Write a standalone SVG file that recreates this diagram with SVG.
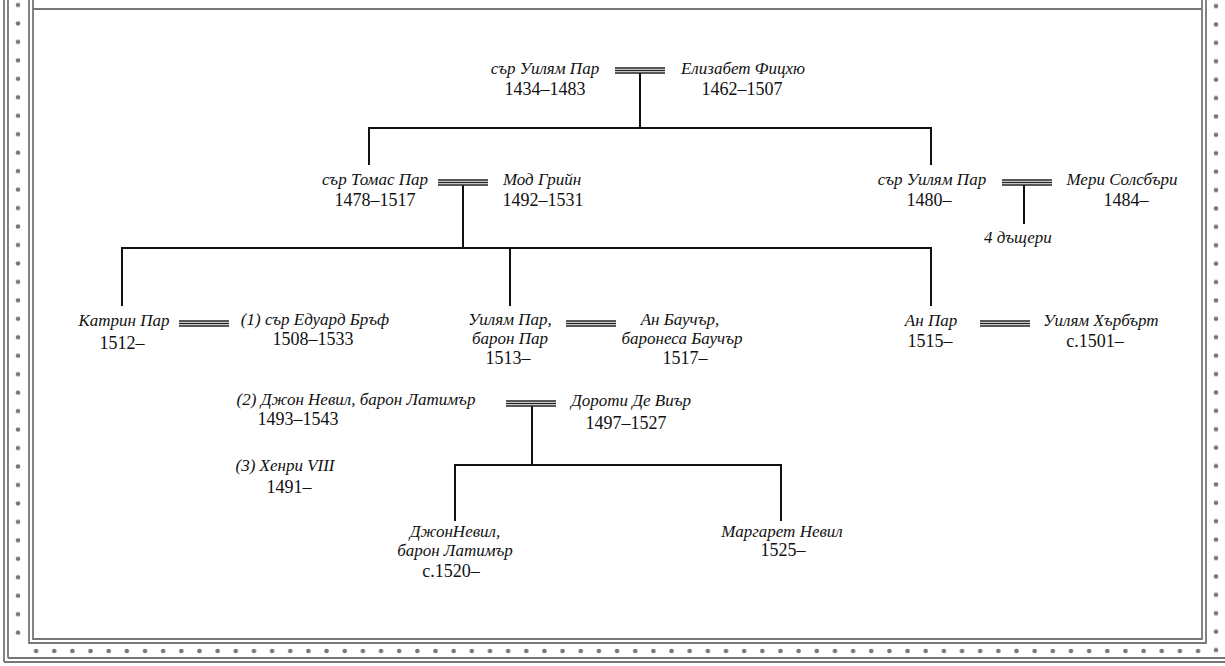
<svg xmlns="http://www.w3.org/2000/svg" width="1225" height="666" viewBox="0 0 1225 666">
<style>
.nm{font-family:"Liberation Serif","DejaVu Serif",serif;font-style:italic;font-size:17px;fill:#111;text-anchor:middle}
.dt{font-family:"Liberation Serif","DejaVu Serif",serif;font-size:18px;fill:#111;text-anchor:middle}
.ln{stroke:#111;stroke-width:2;fill:none}
.mr{stroke:#222;stroke-width:1.3;fill:none}
.bd{stroke:#777;stroke-width:1.8;fill:none}
</style>
<defs>
<pattern id="dh" patternUnits="userSpaceOnUse" x="27" y="640" width="18.156" height="20"><circle cx="9.078" cy="11" r="2.3" fill="#777"/></pattern>
<pattern id="dv" patternUnits="userSpaceOnUse" x="8" y="-4.23" width="20" height="18.46"><circle cx="10" cy="9.23" r="2.3" fill="#777"/></pattern>
<pattern id="dvr" patternUnits="userSpaceOnUse" x="1206" y="-3.2" width="20" height="18.4"><circle cx="10" cy="9.2" r="2.3" fill="#777"/></pattern>
<g id="marriage"><line class="mr" x1="0" y1="0" x2="50" y2="0"/><line class="mr" x1="0" y1="2.5" x2="50" y2="2.5"/><line class="mr" x1="0" y1="5" x2="50" y2="5"/></g>
</defs>
<rect width="1225" height="666" fill="#fff"/>
<g id="border">
<line class="bd" x1="4" y1="0" x2="4" y2="662"/>
<line class="bd" x1="8" y1="0" x2="8" y2="658"/>
<line class="bd" x1="4" y1="662" x2="1225" y2="662"/>
<line class="bd" x1="8" y1="658" x2="1225" y2="658"/>
<rect x="8" y="0" width="20" height="644" fill="url(#dv)"/>
<rect x="27" y="644" width="1180" height="13" fill="url(#dh)"/>
<rect x="1206" y="0" width="19" height="658" fill="url(#dvr)"/>
<path class="bd" d="M29,0 V643 H1206 V0"/>
<path class="bd" d="M33,0 V639 H1202 V0"/>
<line class="bd" x1="33" y1="9" x2="1202" y2="9"/>
</g>
<g id="connectors">
<path class="ln" d="M640,73 V128 M369,165 V128 H931 V165"/>
<path class="ln" d="M463,185 V248 M122,306 V248 H931 V306 M510,248 V306"/>
<path class="ln" d="M1024,185 V224"/>
<path class="ln" d="M532,406 V465 M455,521 V465 H781 V521"/>
<use href="#marriage" x="615" y="68"/>
<use href="#marriage" x="438" y="180"/>
<use href="#marriage" x="1002" y="180"/>
<use href="#marriage" x="179" y="321"/>
<use href="#marriage" x="566" y="321"/>
<use href="#marriage" x="980" y="321"/>
<use href="#marriage" x="506" y="401"/>
</g>
<g id="n-william-sr"><text class="nm" x="545" y="74">сър Уилям Пар</text><text class="dt" x="545" y="95">1434–1483</text></g>
<g id="n-elizabeth"><text class="nm" x="743" y="74">Елизабет Фицхю</text><text class="dt" x="742" y="95">1462–1507</text></g>
<g id="n-thomas"><text class="nm" x="375" y="185">сър Томас Пар</text><text class="dt" x="375" y="206">1478–1517</text></g>
<g id="n-maud"><text class="nm" x="542" y="185">Мод Грийн</text><text class="dt" x="543" y="206">1492–1531</text></g>
<g id="n-william2"><text class="nm" x="932" y="185">сър Уилям Пар</text><text class="dt" x="929" y="206">1480–</text></g>
<g id="n-mary"><text class="nm" x="1122" y="185">Мери Солсбъри</text><text class="dt" x="1126" y="206">1484–</text></g>
<g id="n-daughters"><text class="nm" x="1018" y="243">4  дъщери</text></g>
<g id="n-catherine"><text class="nm" x="124" y="326">Катрин Пар</text><text class="dt" x="122" y="349">1512–</text></g>
<g id="n-borough"><text class="nm" x="315" y="325">(1) сър Едуард Бръф</text><text class="dt" x="313" y="345">1508–1533</text></g>
<g id="n-william3"><text class="nm" x="510" y="325">Уилям Пар,</text><text class="nm" x="510" y="344">барон Пар</text><text class="dt" x="508" y="364">1513–</text></g>
<g id="n-anne-b"><text class="nm" x="680" y="325">Ан Баучър,</text><text class="nm" x="682" y="344">баронеса Баучър</text><text class="dt" x="685" y="364">1517–</text></g>
<g id="n-anne"><text class="nm" x="931" y="326">Ан Пар</text><text class="dt" x="930" y="347">1515–</text></g>
<g id="n-herbert"><text class="nm" x="1101" y="326">Уилям Хърбърт</text><text class="dt" x="1095" y="347">с.1501–</text></g>
<g id="n-neville"><text class="nm" x="356" y="405">(2) Джон Невил, барон Латимър</text><text class="dt" x="298" y="425">1493–1543</text></g>
<g id="n-dorothy"><text class="nm" x="631" y="406">Дороти Де Виър</text><text class="dt" x="626" y="429">1497–1527</text></g>
<g id="n-henry"><text class="nm" x="285" y="471">(3) Хенри VIII</text><text class="dt" x="289" y="493">1491–</text></g>
<g id="n-john"><text class="nm" x="455" y="537">ДжонНевил,</text><text class="nm" x="455" y="556">барон Латимър</text><text class="dt" x="451" y="577">с.1520–</text></g>
<g id="n-margaret"><text class="nm" x="782" y="537">Маргарет Невил</text><text class="dt" x="783" y="556">1525–</text></g>
</svg>
